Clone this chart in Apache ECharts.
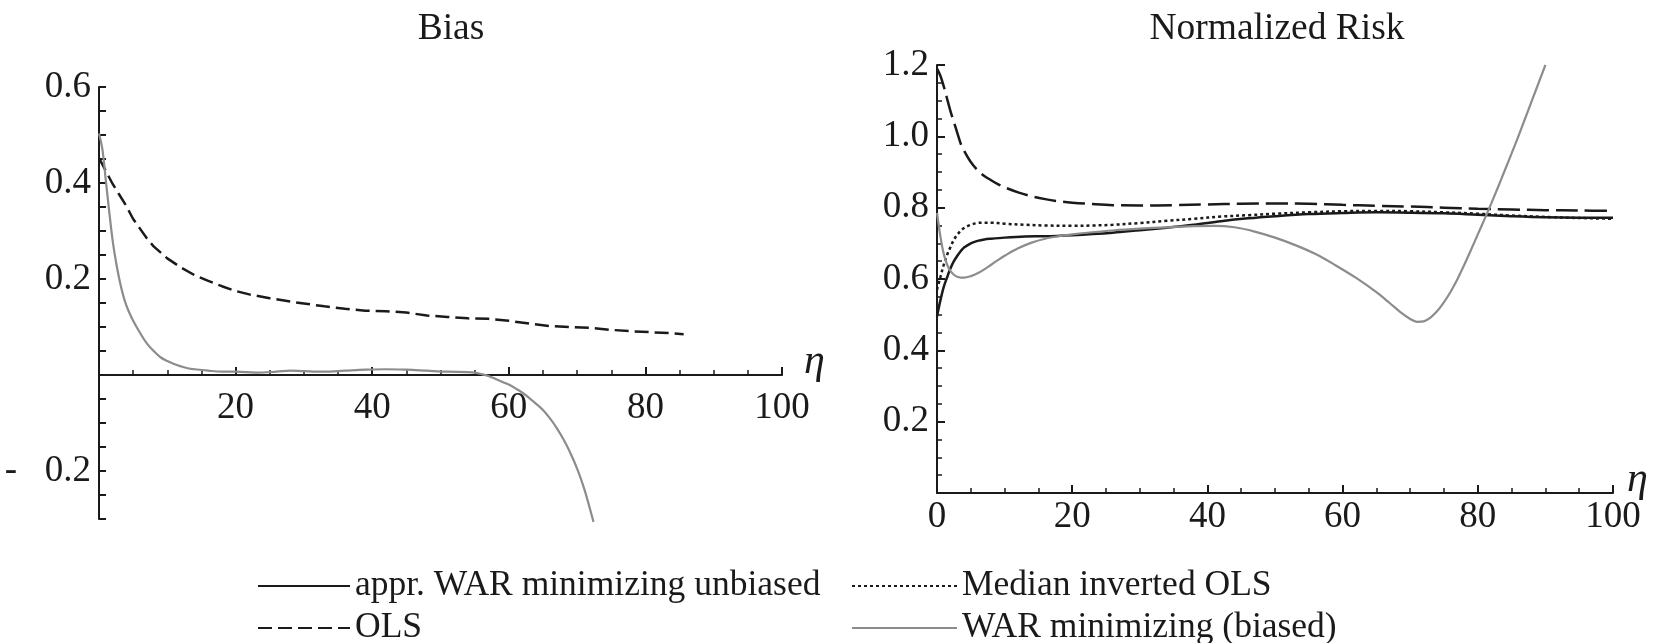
<!DOCTYPE html>
<html lang="en">
<head>
    <meta charset="UTF-8">
    <title>Bias / Normalized Risk</title>
    <script src="https://cdn.jsdelivr.net/npm/echarts@6/dist/echarts.min.js"></script>
    <style>
        html, body { margin: 0; padding: 0; background: #fff; }
        #main { width: 1657px; height: 643px; }
    </style>
</head>
<body>
    <div id="main"></div>
    <script>
        // tick values
        var etaTicks = [0, 20, 40, 60, 80, 100];
        var biasTicks = [-0.2, 0.2, 0.4, 0.6];
        var riskTicks = [0.2, 0.4, 0.6, 0.8, 1.0, 1.2];

        // Bias panel, [eta, value]
        var biasOLS = [[0,0.452],[1,0.425],[2,0.398],[3,0.375],[4,0.352],[5,0.325],[6,0.305],[7,0.285],[8,0.268],[10,0.243],[12,0.224],[14,0.208],[16,0.196],[18,0.185],[20,0.175],[22,0.168],[25,0.16],[28,0.153],[30,0.149],[33,0.143],[36,0.138],[39,0.134],[42,0.133],[45,0.13],[48,0.124],[51,0.121],[54,0.118],[57,0.117],[60,0.113],[63,0.107],[66,0.102],[69,0.1],[72,0.098],[75,0.094],[78,0.091],[81,0.089],[84,0.087],[85.6,0.085]];
        var biasWAR = [[0,0.503],[0.5,0.47],[1,0.405],[1.5,0.34],[2,0.28],[2.5,0.235],[3,0.198],[3.5,0.168],[4,0.145],[4.5,0.128],[5,0.113],[6,0.088],[7,0.066],[8,0.05],[9,0.037],[10,0.029],[11,0.023],[12,0.018],[13,0.014],[14,0.012],[16,0.009],[18,0.007],[20,0.007],[23,0.005],[26,0.007],[28,0.009],[30,0.008],[33,0.007],[36,0.009],[39,0.011],[42,0.012],[45,0.011],[48,0.009],[51,0.007],[54,0.006],[55,0.005],[56,0.002],[57,-0.002],[58,-0.008],[59,-0.014],[60,-0.02],[61,-0.028],[62,-0.037],[63,-0.048],[64,-0.06],[65,-0.073],[66,-0.09],[67,-0.11],[68,-0.134],[69,-0.162],[70,-0.195],[71,-0.235],[72,-0.285],[72.4,-0.306]];

        // Normalized Risk panel, [eta, value]
        var riskOLS = [[0,1.19],[0.5,1.17],[1,1.14],[1.5,1.105],[2,1.07],[2.5,1.04],[3,1.01],[3.5,0.98],[4,0.96],[5,0.928],[6,0.905],[7,0.889],[8,0.877],[9,0.866],[10,0.857],[12,0.843],[14,0.832],[16,0.824],[18,0.818],[20,0.814],[23,0.81],[26,0.807],[30,0.806],[35,0.807],[40,0.809],[45,0.811],[50,0.812],[55,0.811],[60,0.808],[65,0.805],[70,0.803],[75,0.8],[80,0.797],[85,0.795],[90,0.793],[95,0.792],[100,0.791]];
        var riskApprWAR = [[0,0.495],[0.5,0.54],[1,0.578],[1.5,0.605],[2,0.63],[2.5,0.65],[3,0.665],[3.5,0.678],[4,0.688],[5,0.7],[6,0.707],[7,0.711],[8,0.713],[10,0.716],[13,0.719],[16,0.72],[20,0.723],[23,0.726],[26,0.73],[30,0.737],[34,0.744],[38,0.752],[42,0.762],[46,0.77],[50,0.776],[55,0.782],[60,0.785],[65,0.787],[70,0.786],[75,0.784],[80,0.78],[85,0.776],[90,0.773],[95,0.772],[100,0.772]];
        var riskMedian = [[0,0.57],[0.5,0.605],[1,0.64],[1.5,0.668],[2,0.69],[2.5,0.71],[3,0.724],[3.5,0.735],[4,0.743],[5,0.752],[6,0.757],[7,0.758],[8,0.758],[10,0.755],[13,0.752],[16,0.75],[20,0.749],[23,0.75],[26,0.752],[30,0.757],[34,0.763],[38,0.769],[42,0.775],[46,0.779],[50,0.783],[55,0.787],[60,0.79],[65,0.791],[70,0.79],[75,0.787],[80,0.783],[85,0.778],[90,0.774],[95,0.771],[100,0.769]];
        var riskWAR = [[0,0.785],[0.5,0.72],[1,0.67],[1.5,0.64],[2,0.622],[2.5,0.612],[3,0.606],[3.5,0.604],[4,0.604],[5,0.608],[6,0.616],[7,0.627],[8,0.64],[9,0.653],[10,0.665],[12,0.686],[14,0.702],[16,0.713],[18,0.72],[20,0.725],[23,0.731],[26,0.736],[30,0.741],[34,0.745],[38,0.748],[41,0.749],[44,0.745],[47,0.733],[50,0.716],[53,0.695],[56,0.67],[59,0.638],[62,0.603],[65,0.563],[67,0.532],[68.5,0.508],[70,0.488],[71,0.48],[72,0.481],[73,0.492],[74,0.51],[75,0.535],[76,0.565],[77,0.6],[78,0.64],[79,0.682],[80,0.725],[81,0.768],[82,0.812],[83,0.858],[84,0.905],[85,0.952],[86,1.0],[87,1.05],[88,1.1],[89,1.15],[90,1.2]];

        var BLACK = '#1a1a1a';
        var GREY = '#8c8c8c';
        var FONT = "'Liberation Serif', 'DejaVu Serif', serif";

        var myChart = echarts.init(document.getElementById('main'));

        function near(v, list) {
            for (var i = 0; i < list.length; i++) {
                if (Math.abs(v - list[i]) < 1e-6) return true;
            }
            return false;
        }

        // offset moves the eta axis up to value 0 (left grid: 0 sits 144px above the bottom)
        function xAxisOf(grid, showZero, offset, labelMargin, gap) {
            return {
                gridIndex: grid,
                type: 'value',
                min: 0,
                max: 100,
                interval: 20,
                offset: offset,
                name: 'η',
                nameLocation: 'end',
                nameGap: gap,
                nameMoveOverlap: false,
                nameTextStyle: { fontFamily: FONT, fontStyle: 'italic', fontSize: 42, lineHeight: 26, color: BLACK, verticalAlign: 'bottom' },
                axisLine: { onZero: false, lineStyle: { color: BLACK, width: 2 } },
                axisTick: { inside: true, length: 8, lineStyle: { color: BLACK, width: 2 } },
                minorTick: { show: true, splitNumber: 4, length: 5, lineStyle: { color: BLACK, width: 1.5 } },
                splitLine: { show: false },
                axisLabel: {
                    margin: labelMargin,
                    fontFamily: FONT, fontSize: 37, color: BLACK,
                    formatter: function (v) {
                        if (!showZero && v === 0) return '';
                        return near(v, etaTicks) ? String(v) : '';
                    }
                }
            };
        }

        var legendText = { fontFamily: FONT, fontSize: 35.5, color: BLACK };

        option = {
            animation: false,
            title: [
                { text: 'Bias', left: 446, top: 5, textAlign: 'center', textStyle: { fontFamily: FONT, fontWeight: 'normal', fontSize: 37.5, color: BLACK } },
                { text: 'Normalized Risk', left: 1272, top: 5, textAlign: 'center', textStyle: { fontFamily: FONT, fontWeight: 'normal', fontSize: 37.5, color: BLACK } }
            ],
            grid: [
                { left: 99, top: 87, width: 683, height: 432, containLabel: false, outerBoundsMode: 'none' },
                { left: 937, top: 65, width: 676, height: 428, containLabel: false, outerBoundsMode: 'none' }
            ],
            legend: [
                { data: ['appr. WAR minimizing unbiased'], left: 257, top: 568, padding: 0, itemWidth: 92, itemHeight: 14, itemStyle: { opacity: 0 }, textStyle: legendText },
                { data: ['OLS'], left: 257, top: 610, padding: 0, itemWidth: 92, itemHeight: 14, itemStyle: { opacity: 0 }, textStyle: legendText },
                { data: ['Median inverted OLS'], left: 851, top: 568, padding: 0, itemWidth: 105, itemHeight: 14, itemStyle: { opacity: 0 }, textStyle: legendText },
                { data: ['WAR minimizing (biased)'], left: 851, top: 610, padding: 0, itemWidth: 105, itemHeight: 14, itemStyle: { opacity: 0 }, textStyle: legendText }
            ],
            xAxis: [xAxisOf(0, false, -144, 15, 22), xAxisOf(1, true, 0, 6, 14)],
            yAxis: [
                {
                    gridIndex: 0,
                    type: 'value',
                    min: -0.3,
                    max: 0.6,
                    interval: 0.05,
                    axisLine: { show: true, onZero: false, lineStyle: { color: BLACK, width: 2 } },
                    axisTick: { show: true, inside: true, length: 7, lineStyle: { color: BLACK, width: 2 } },
                    splitLine: { show: false },
                    axisLabel: {
                        margin: 8,
                        fontFamily: FONT, fontSize: 37, color: BLACK,
                        formatter: function (v) {
                            if (!near(v, biasTicks)) return '';
                            return v < 0 ? '-   ' + Math.abs(v).toFixed(1) : v.toFixed(1);
                        }
                    }
                },
                {
                    gridIndex: 1,
                    type: 'value',
                    min: 0,
                    max: 1.2,
                    interval: 0.2,
                    axisLine: { show: true, onZero: false, lineStyle: { color: BLACK, width: 2 } },
                    axisTick: { show: true, inside: true, length: 8, lineStyle: { color: BLACK, width: 2 } },
                    minorTick: { show: true, splitNumber: 4, length: 5, lineStyle: { color: BLACK, width: 1.5 } },
                    splitLine: { show: false },
                    axisLabel: {
                        margin: 8,
                        fontFamily: FONT, fontSize: 37, color: BLACK,
                        formatter: function (v) {
                            return near(v, riskTicks) ? v.toFixed(1) : '';
                        }
                    }
                }
            ],
            series: [
                {
                    name: 'OLS', type: 'line', xAxisIndex: 0, yAxisIndex: 0, data: biasOLS,
                    symbol: 'none', clip: false,
                    lineStyle: { color: BLACK, width: 2.5, type: [14, 6] }, itemStyle: { color: BLACK }
                },
                {
                    name: 'WAR minimizing (biased)', type: 'line', xAxisIndex: 0, yAxisIndex: 0, data: biasWAR,
                    symbol: 'none', clip: false, smooth: 0.35,
                    lineStyle: { color: GREY, width: 2.2 }, itemStyle: { color: GREY }
                },
                {
                    name: 'appr. WAR minimizing unbiased', type: 'line', xAxisIndex: 1, yAxisIndex: 1, data: riskApprWAR,
                    symbol: 'none', clip: false, smooth: 0.35,
                    lineStyle: { color: BLACK, width: 2.5 }, itemStyle: { color: BLACK }
                },
                {
                    name: 'OLS', type: 'line', xAxisIndex: 1, yAxisIndex: 1, data: riskOLS,
                    symbol: 'none', clip: false, smooth: 0.35,
                    lineStyle: { color: BLACK, width: 2.5, type: [22, 7] }, itemStyle: { color: BLACK }
                },
                {
                    name: 'Median inverted OLS', type: 'line', xAxisIndex: 1, yAxisIndex: 1, data: riskMedian,
                    symbol: 'none', clip: false, smooth: 0.35,
                    lineStyle: { color: BLACK, width: 2.5, type: [3, 3] }, itemStyle: { color: BLACK }
                },
                {
                    name: 'WAR minimizing (biased)', type: 'line', xAxisIndex: 1, yAxisIndex: 1, data: riskWAR,
                    symbol: 'none', clip: false, smooth: 0.35,
                    lineStyle: { color: GREY, width: 2.2 }, itemStyle: { color: GREY }
                }
            ]
        };

        myChart.setOption(option);
        window.onresize = myChart.resize;
    </script>
</body>
</html>
